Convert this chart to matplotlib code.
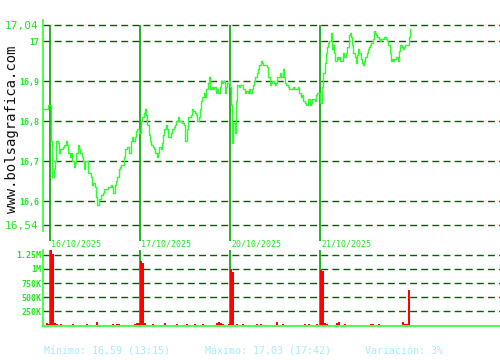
import numpy as np
import matplotlib
matplotlib.use('Agg')
from matplotlib import pyplot as plt

# cotizacion (4 sesiones) y cierre previo
prev_close = [16.83, 16.83, 16.84, 16.84]
day1 = [16.75, 16.66, 16.68, 16.70, 16.75, 16.745, 16.72, 16.73, 16.73, 16.735,
        16.74, 16.75, 16.74, 16.72, 16.71, 16.72, 16.70, 16.685, 16.695, 16.72,
        16.74, 16.73, 16.72, 16.71, 16.70, 16.68, 16.70, 16.70, 16.67, 16.67,
        16.66, 16.64, 16.645, 16.635, 16.61, 16.59, 16.605, 16.605, 16.615, 16.62,
        16.63, 16.63, 16.63, 16.635, 16.635, 16.64, 16.635, 16.62, 16.64, 16.65,
        16.66, 16.68, 16.685, 16.69, 16.69, 16.71, 16.73, 16.735, 16.735, 16.72,
        16.75, 16.76, 16.75, 16.76, 16.775, 16.78, 16.77, 16.77]
day2 = [16.80, 16.81, 16.82, 16.83, 16.815, 16.79, 16.765, 16.75, 16.74, 16.735,
        16.73, 16.72, 16.71, 16.72, 16.735, 16.73, 16.745, 16.765, 16.78, 16.79,
        16.78, 16.76, 16.76, 16.77, 16.78, 16.785, 16.79, 16.80, 16.81, 16.80,
        16.80, 16.795, 16.795, 16.79, 16.75, 16.78, 16.81, 16.81, 16.815, 16.83,
        16.825, 16.82, 16.815, 16.80, 16.81, 16.83, 16.85, 16.86, 16.87, 16.86,
        16.88, 16.895, 16.91, 16.88, 16.885, 16.88, 16.885, 16.87, 16.88, 16.87,
        16.885, 16.90, 16.895, 16.90, 16.87, 16.885, 16.895, 16.90, 16.885]
day3 = [16.84, 16.745, 16.795, 16.77, 16.85, 16.89, 16.885, 16.89, 16.89, 16.88,
        16.88, 16.87, 16.875, 16.87, 16.88, 16.87, 16.88, 16.89, 16.90, 16.91,
        16.92, 16.93, 16.94, 16.95, 16.945, 16.94, 16.94, 16.94, 16.935, 16.91,
        16.89, 16.895, 16.90, 16.895, 16.89, 16.895, 16.91, 16.91, 16.92, 16.91,
        16.93, 16.91, 16.895, 16.89, 16.885, 16.88, 16.88, 16.88, 16.885, 16.88,
        16.88, 16.88, 16.885, 16.87, 16.86, 16.865, 16.85, 16.845, 16.84, 16.84,
        16.855, 16.84, 16.845, 16.855, 16.855, 16.85, 16.865, 16.87, 16.87, 16.845]
day4 = [16.845, 16.885, 16.92, 16.945, 16.97, 16.985, 16.995, 17.00, 17.02, 16.98,
        16.99, 16.97, 16.95, 16.96, 16.955, 16.96, 16.95, 16.95, 16.97, 16.96,
        16.96, 16.97, 16.985, 17.015, 17.02, 17.01, 16.99, 16.97, 16.96, 16.945,
        16.965, 16.98, 16.97, 16.955, 16.945, 16.94, 16.95, 16.96, 16.97, 16.98,
        16.985, 16.99, 16.995, 17.005, 17.025, 17.02, 17.015, 17.01, 17.005, 17.00,
        17.005, 17.005, 17.01, 17.01, 17.005, 17.00, 16.99, 16.97, 16.95, 16.955,
        16.95, 16.955, 16.96, 16.96, 16.95, 16.975, 16.99, 16.985, 16.98, 16.985,
        16.99, 16.99, 16.99, 17.01, 17.03]

# volumen (miles), 45 barras por sesion
prev_vol = [12, 40, 20]
vol1 = [1400, 1260, 45, 30, 12, 25, 12, 12, 12, 12, 12, 25, 12, 12, 12,
        12, 12, 12, 25, 12, 12, 12, 12, 50, 12, 12, 12, 12, 12, 12,
        12, 25, 12, 25, 25, 12, 12, 12, 12, 12, 12, 12, 25, 35, 40]
vol2 = [1150, 1100, 35, 12, 12, 12, 25, 12, 12, 12, 12, 12, 35, 12, 12,
        12, 12, 12, 25, 12, 12, 12, 12, 25, 12, 12, 12, 25, 12, 12,
        12, 25, 12, 12, 12, 12, 12, 12, 35, 50, 35, 30, 12, 12, 25]
vol3 = [1000, 950, 12, 25, 12, 12, 25, 12, 12, 12, 12, 12, 12, 25, 12,
        25, 12, 12, 12, 12, 12, 12, 12, 50, 12, 12, 25, 12, 12, 12,
        12, 12, 12, 12, 12, 12, 12, 25, 12, 25, 12, 12, 12, 25, 12]
vol4 = [980, 960, 35, 30, 12, 12, 12, 12, 35, 50, 12, 12, 25, 12, 12,
        12, 12, 12, 12, 12, 12, 12, 12, 12, 12, 25, 25, 12, 12, 25,
        12, 12, 12, 12, 12, 12, 12, 12, 12, 12, 12, 50, 30, 25, 620]

dias = ['16/10/2025', '17/10/2025', '20/10/2025', '21/10/2025']
precio_ticks = [16.54, 16.6, 16.7, 16.8, 16.9, 17.0, 17.04]
precio_labels = ['16,54', '16,6', '16,7', '16,8', '16,9', '17', '17,04']
vol_ticks = [250, 500, 750, 1000, 1250]
vol_labels = ['250K', '500K', '750K', '1M', '1.25M']
minimo = '16,59 (13:15)'
maximo = '17,03 (17:42)'
variacion = '3%'

VERDE = '#2bff2b'
TXT = '#22e622'
GRID = '#0b5c0b'
SEP = '#00a300'
MONO = 'DejaVu Sans Mono'

fig = plt.figure(figsize=(5, 3.6), dpi=100)
ax = fig.add_axes([0.086, 0.358, 0.914, 0.586])
axv = fig.add_axes([0.086, 0.094, 0.914, 0.212])

# precio
xs, ys = [], []
xs += list(np.linspace(-0.067, 0.005, len(prev_close)))
ys += prev_close
for k, d in enumerate([day1, day2, day3, day4]):
    xs += list(k + np.linspace(0.01, 1.0, len(d)))
    ys += d

for t in precio_ticks:
    ax.axhline(t, color=GRID, lw=1, ls=(0, (5, 3)), zorder=1)
ax.vlines(range(4), 16.50, 17.04, color=SEP, lw=1.2, clip_on=False, zorder=2)
ax.plot(xs, ys, color=VERDE, lw=1.0, drawstyle='steps-post', zorder=3)

ax.set_xlim(-0.078, 5.0)
ax.set_ylim(16.5255, 17.0525)
ax.set_xticks([])
ax.set_yticks(precio_ticks)
ax.set_yticklabels(precio_labels, family=MONO, color=TXT)
for lab in ax.get_yticklabels():
    if lab.get_text() in ('16,54', '17,04'):
        lab.set_fontsize(8)
    else:
        lab.set_fontsize(6)
        lab.set_fontweight('bold')
ax.tick_params(axis='y', length=0, pad=3)
for s in ['top', 'right', 'bottom']:
    ax.spines[s].set_visible(False)
ax.spines['left'].set_color(VERDE)
ax.spines['left'].set_linewidth(1.2)

for k, d in enumerate(dias):
    ax.text(k + 0.012, 16.494, d, family=MONO, fontsize=6, color=TXT,
            ha='left', va='center', clip_on=False)

# volumen
for t in vol_ticks:
    axv.axhline(t, color=GRID, lw=1, ls=(0, (5, 3)), zorder=1)
axv.vlines(range(4), 0, 1340, color=SEP, lw=1.2, zorder=2)
w = 1 / 45
axv.bar(np.arange(len(prev_vol)) * w - len(prev_vol) * w, prev_vol, width=w,
        align='edge', color='#ff0000', lw=0, zorder=3)
for k, v in enumerate([vol1, vol2, vol3, vol4]):
    axv.bar(k + np.arange(len(v)) * w, v, width=w, align='edge',
            color='#ff0000', lw=0, zorder=3)
axv.set_xlim(-0.078, 5.0)
axv.set_ylim(-15, 1340)
axv.set_xticks([])
axv.set_yticks(vol_ticks)
axv.set_yticklabels(vol_labels, family=MONO, color=TXT, fontsize=6,
                    fontweight='bold')
axv.tick_params(axis='y', length=0, pad=1)
for s in ['top', 'right']:
    axv.spines[s].set_visible(False)
for s in ['left', 'bottom']:
    axv.spines[s].set_color(VERDE)
    axv.spines[s].set_linewidth(1.2)

fig.text(0.024, 0.642, 'www.bolsagrafica.com', rotation=90, family=MONO,
         fontsize=10, color='#111111', ha='center', va='center')

pie = '#a8ecfc'
fig.text(0.088, 0.025, 'Mínimo: ' + minimo, family=MONO, fontsize=7.2,
         color=pie, va='center')
fig.text(0.41, 0.025, 'Máximo: ' + maximo, family=MONO, fontsize=7.2,
         color=pie, va='center')
fig.text(0.73, 0.025, 'Variación: ' + variacion, family=MONO, fontsize=7.2,
         color=pie, va='center')

fig.savefig('out.png', dpi=100)
